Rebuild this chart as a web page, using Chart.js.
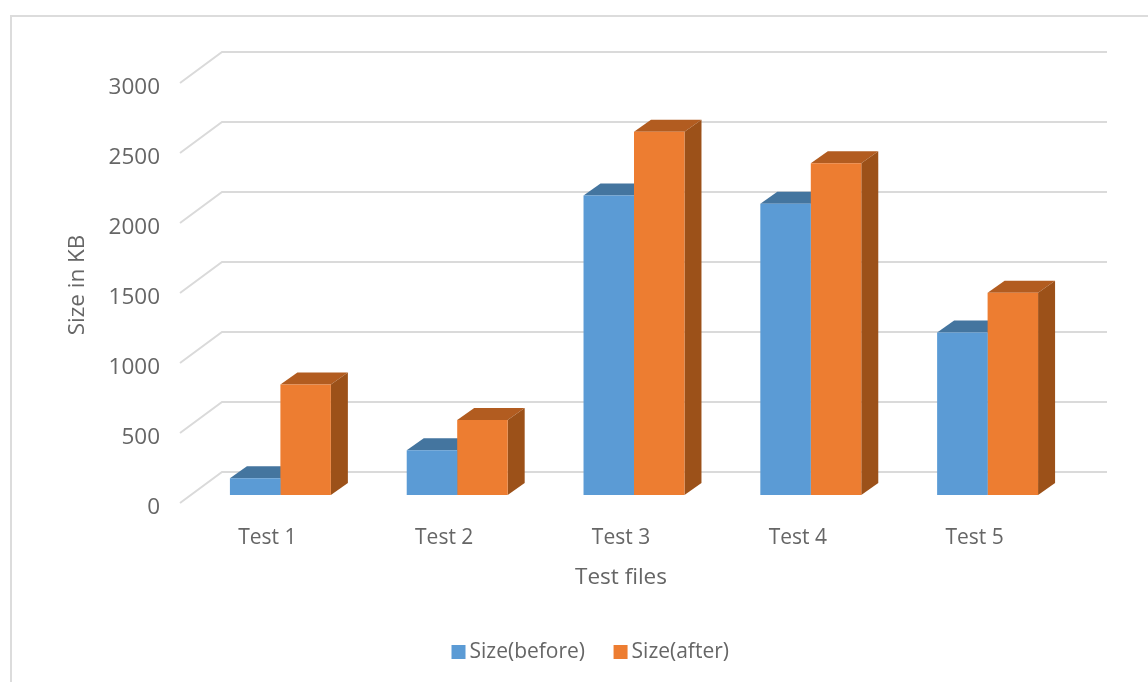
<!DOCTYPE html>
<html>
<head>
<meta charset="utf-8">
<title>Size in KB</title>
<script src="https://cdn.jsdelivr.net/npm/chart.js@4/dist/chart.umd.min.js"></script>
<style>
  html, body { margin: 0; padding: 0; background: #fff; overflow: hidden; }
  #wrap { position: relative; width: 1148px; height: 682px; }
  #myChart { position: absolute; left: 0; top: 0; }
  #frame {
    position: absolute; left: 10px; top: 15px; right: -4px; bottom: -4px;
    border: 2px solid #dcdcdc; pointer-events: none;
  }
</style>
</head>
<body>
<div id="wrap">
  <canvas id="myChart" width="1148" height="682"></canvas>
  <div id="frame"></div>
</div>
<script>
  const categories = ["Test 1", "Test 2", "Test 3", "Test 4", "Test 5"];
  const sizeBefore = [120, 320, 2140, 2080, 1160];
  const sizeAfter = [790, 535, 2595, 2370, 1445];

  const textColor = "#666666";
  const fontFamily = "'Open Sans', sans-serif";

  // how far the 3D box goes back from the bar's front face
  const depthX = 17;
  const depthY = 12;

  // floor and back wall lines, offset from the plane the bars stand on
  const wallGrid = {
    id: "wallGrid",
    beforeDatasetsDraw(chart) {
      const ctx = chart.ctx;
      const yScale = chart.scales.y;
      ctx.save();
      ctx.strokeStyle = "#dadada";
      ctx.lineWidth = 2;
      yScale.ticks.forEach((tick) => {
        const y = yScale.getPixelForValue(tick.value);
        ctx.beginPath();
        ctx.moveTo(180, y + 8);
        ctx.lineTo(222, y - 23);
        ctx.lineTo(1107, y - 23);
        ctx.stroke();
      });
      ctx.restore();
    },
  };

  // top and side faces, the library draws the front face over them
  const barDepth = {
    id: "barDepth",
    beforeDatasetsDraw(chart) {
      const ctx = chart.ctx;
      chart.data.datasets.forEach((ds, i) => {
        chart.getDatasetMeta(i).data.forEach((bar) => {
          const left = bar.x - bar.width / 2;
          const right = bar.x + bar.width / 2;
          ctx.fillStyle = ds.topColor;
          ctx.beginPath();
          ctx.moveTo(left, bar.y);
          ctx.lineTo(left + depthX, bar.y - depthY);
          ctx.lineTo(right + depthX, bar.y - depthY);
          ctx.lineTo(right, bar.y);
          ctx.closePath();
          ctx.fill();
          ctx.fillStyle = ds.sideColor;
          ctx.beginPath();
          ctx.moveTo(right, bar.y);
          ctx.lineTo(right + depthX, bar.y - depthY);
          ctx.lineTo(right + depthX, bar.base - depthY);
          ctx.lineTo(right, bar.base);
          ctx.closePath();
          ctx.fill();
        });
      });
    },
  };

  // the legend sits right of the canvas centre, the x title left of the plot centre
  const sideNudge = {
    id: "sideNudge",
    afterLayout(chart) {
      chart.legend.left += 55.5;
      chart.legend.right += 55.5;
    },
    afterDraw(chart) {
      const ctx = chart.ctx;
      ctx.save();
      ctx.font = "22.5px " + fontFamily;
      ctx.fillStyle = textColor;
      ctx.textAlign = "center";
      ctx.textBaseline = "middle";
      ctx.fillText("Test files", 621, 578);
      ctx.restore();
    },
  };

  new Chart(document.getElementById("myChart"), {
    type: "bar",
    data: {
      labels: categories,
      datasets: [
        {
          label: "Size(before)",
          data: sizeBefore,
          backgroundColor: "#5b9bd5",
          topColor: "#44759f",
          sideColor: "#3a6a94",
        },
        {
          label: "Size(after)",
          data: sizeAfter,
          backgroundColor: "#ed7d31",
          topColor: "#b25c20",
          sideColor: "#9c5119",
        },
      ],
    },
    options: {
      responsive: false,
      animation: false,
      categoryPercentage: 0.571,
      barPercentage: 1,
      layout: { padding: { top: 75, right: 72, left: 0, bottom: 9.5 } },
      scales: {
        x: {
          grid: { display: false },
          border: { display: false },
          ticks: {
            color: textColor,
            font: { family: fontFamily, size: 21 },
            padding: 22,
            labelOffset: -13,
            maxRotation: 0,
          },
          afterFit(scale) {
            scale.height = 111.5;
          },
        },
        y: {
          min: 0,
          max: 3000,
          grid: { display: false },
          border: { display: false },
          ticks: {
            stepSize: 500,
            color: textColor,
            font: { family: fontFamily, size: 22.5 },
            padding: 24,
            labelOffset: 13,
            callback: (value) => String(value),
          },
          title: {
            display: true,
            text: "Size in KB",
            color: textColor,
            font: { family: fontFamily, size: 22.5 },
            padding: { top: 64, bottom: 0 },
          },
          afterFit(scale) {
            scale.width = 192;
          },
        },
      },
      plugins: {
        tooltip: { enabled: false },
        legend: {
          position: "bottom",
          labels: {
            color: textColor,
            font: { family: fontFamily, size: 21 },
            usePointStyle: true,
            pointStyle: "rect",
            boxWidth: 1,
            boxHeight: 14,
            padding: 35,
          },
        },
      },
    },
    plugins: [wallGrid, barDepth, sideNudge],
  });
</script>
</body>
</html>
